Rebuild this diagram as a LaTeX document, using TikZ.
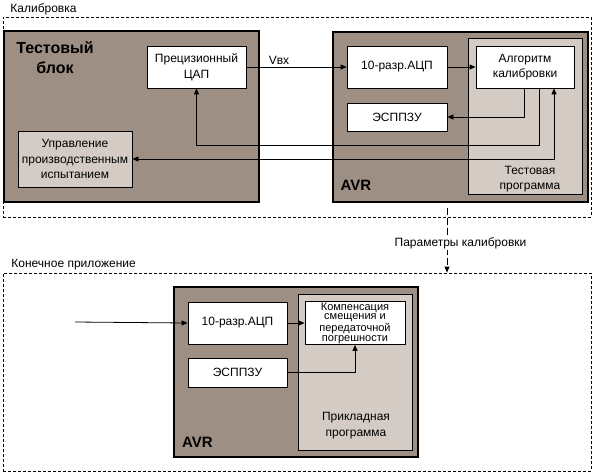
\documentclass[tikz,border=0pt]{standalone}
\usepackage{fontspec}
\setmainfont{Liberation Sans}
\usetikzlibrary{arrows.meta}
\definecolor{brownbox}{RGB}{158,143,132}
\definecolor{greybox}{RGB}{212,204,196}
\tikzstyle{block}=[draw, fill=white, inner sep=1pt, align=center, font=\fontsize{12}{15.5}\selectfont, line width=0.8pt]
\tikzstyle{unit}=[draw, fill=brownbox, line width=1.3pt, inner sep=0pt]
\tikzstyle{panel}=[draw, fill=greybox, line width=1pt, inner sep=0pt]
\tikzstyle{frame}=[draw, dash pattern=on 3pt off 2pt, line width=0.8pt, inner sep=0pt]
\tikzstyle{txt}=[inner sep=0pt, align=center, font=\fontsize{12}{15.5}\selectfont]
\tikzstyle{bold}=[inner sep=0pt, align=center, font=\fontsize{16}{20}\selectfont\bfseries]
\begin{document}
\begin{tikzpicture}[x=1pt, y=-1pt, line width=0.8pt, >={Triangle[length=6pt,width=5pt]}]
\useasboundingbox (0,0) rectangle (594,474);
\node [frame, minimum width=588pt, minimum height=200pt] (cal) at (297,117){}; \node [txt, anchor=west] (calt) at (10,9.5) {Калибровка};
\node [frame, minimum width=588pt, minimum height=198pt] (app) at (297,372){}; \node [txt, anchor=west] (appt) at (11,265) {Конечное приложение};
% calibration
\node [unit, minimum width=255pt, minimum height=171pt] (test) at (131.5,116.5){};
\node [bold] (testt) at (55,58) {Тестовый\\блок};
\node [block, minimum width=99pt, minimum height=42pt] (dac) at (196.5,67) {Прецизионный\\ЦАП};
\node [block, fill=greybox, minimum width=114pt, minimum height=56pt] (ctl) at (75,159) {Управление\\производственным\\испытанием};
\node [unit, minimum width=255pt, minimum height=170pt] (avr) at (460.5,117){};
\node [bold, font=\fontsize{15}{18}\selectfont\bfseries] (avrt) at (356,185) {AVR};
\node [panel, minimum width=114pt, minimum height=156pt] (tprog) at (525,116){};
\node [txt] (tprogt) at (530,179) {Тестовая\\программа};
\node [block, minimum width=100pt, minimum height=42pt] (adc) at (397,67) {10-разр.АЦП};
\node [block, minimum width=98pt, minimum height=42pt] (alg) at (525,67) {Алгоритм\\калибровки};
\node [block, minimum width=100pt, minimum height=28pt] (eep) at (397,117) {ЭСППЗУ};
\node [txt] (vin) at (279,60) {Vвх};
\draw [->] (dac.east) -- (adc.west);
\draw [->] (adc.east) -- (alg.west);
\draw [->] ([xshift=-1pt]alg.south) |- (eep.east);
\draw [->] ([xshift=14pt]alg.south) -- ++(0,57) -| (dac.south);
\draw [<->] (ctl.east) -| ([xshift=29pt]alg.south);
% application
\node [unit, minimum width=244pt, minimum height=170pt] (avr2) at (296,372){};
\node [bold, font=\fontsize{15}{18}\selectfont\bfseries] (avr2t) at (197.5,442) {AVR};
\node [panel, minimum width=114pt, minimum height=156pt] (aprog) at (355,372){};
\node [txt] (aprogt) at (356,425.5) {Прикладная\\программа};
\node [block, minimum width=99pt, minimum height=42pt] (adc2) at (237.5,323) {10-разр.АЦП};
\node [block, minimum width=100pt, minimum height=42pt, font=\fontsize{11}{9.8}\selectfont] (comp) at (355,323) {Компенсация\\смещения и\\передаточной\\погрешности};
\node [block, minimum width=99pt, minimum height=29pt] (eep2) at (237.5,372.5) {ЭСППЗУ};
\coordinate (in) at (75,322);
\draw [->] (in) -- (adc2.west);
\draw [->] (adc2.east) -- (comp.west);
\draw [->] (eep2.east) -| (comp.south);
\draw [->, dash pattern=on 7pt off 3pt] ([xshift=-13.5pt, yshift=-5pt]avr.south) -- ([xshift=-13.5pt]avr.south |- app.north);
\node [txt, fill=white, inner sep=1pt] (par) at (460.5,243) {Параметры калибровки};
\end{tikzpicture}
\end{document}
